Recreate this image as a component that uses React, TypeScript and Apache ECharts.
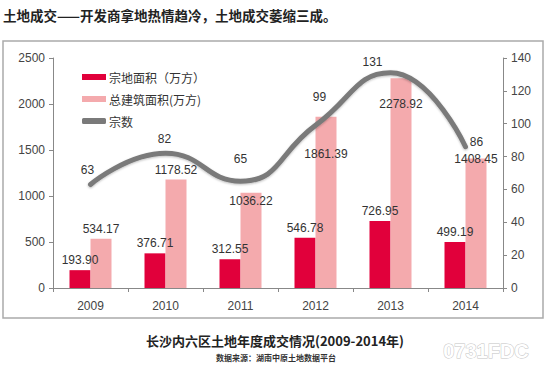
import React, { useEffect, useRef } from "react";
import * as echarts from "echarts";

const years = ["2009", "2010", "2011", "2012", "2013", "2014"];
const landArea = [193.9, 376.71, 312.55, 546.78, 726.95, 499.19];
const buildArea = [534.17, 1178.52, 1036.22, 1861.39, 2278.92, 1408.45];
const counts = [63, 82, 65, 99, 131, 86];
const seriesNames = ["宗地面积（万方）", "总建筑面积(万方)", "宗数"];
const titleText = "土地成交——开发商拿地热情趋冷，土地成交萎缩三成。";
const captionText = "长沙内六区土地年度成交情况(2009-2014年)";
const sourceText = "数据来源：湖南中原土地数据平台";
const watermarkText = "0731FDC";

// label offsets (styling only)
const buildLabelOffsets = [0, 0, 18, 47, 36, 11];
const countLabelOffsets: [number, number][] = [
  [-3, -3],
  [-1, -3],
  [0, -11],
  [4, -17],
  [-18, 1],
  [11, 7],
];

const NUM_FONT = "'Liberation Sans', Arial, sans-serif";
const CJK_FONT = "'Noto Sans CJK SC', 'Noto Sans', sans-serif";

export default function App() {
  const ref = useRef<HTMLDivElement>(null);
  useEffect(() => {
    if (!ref.current) return;
    const chart = echarts.init(ref.current, undefined, { renderer: "svg" });
    const labelStyle = {
      fontSize: 12,
      color: "#333",
      fontFamily: NUM_FONT,
    };
    chart.setOption({
      animation: false,
      backgroundColor: "#fff",
      textStyle: { fontFamily: NUM_FONT },
      grid: { left: 53, right: 47, top: 58, bottom: 83, containLabel: false },
      legend: {
        orient: "vertical",
        left: 77,
        top: 66,
        itemWidth: 24,
        itemHeight: 6,
        itemGap: 10,
        textStyle: { fontSize: 12, color: "#333", fontFamily: CJK_FONT, padding: [0, 0, 0, -2] },
        data: [
          { name: seriesNames[0], icon: "rect" },
          { name: seriesNames[1], icon: "rect" },
          { name: seriesNames[2], icon: "roundRect" },
        ],
      },
      xAxis: {
        type: "category",
        data: years,
        boundaryGap: true,
        axisLine: { lineStyle: { color: "#888", width: 1 } },
        axisTick: { show: true, alignWithLabel: false, length: 4, lineStyle: { color: "#888" } },
        axisLabel: { fontSize: 12, color: "#444", margin: 12, fontFamily: NUM_FONT },
      },
      yAxis: [
        {
          type: "value",
          min: 0,
          max: 2500,
          interval: 500,
          splitLine: { show: false },
          axisLine: { show: true, lineStyle: { color: "#888", width: 1 } },
          axisTick: { show: true, length: 4, lineStyle: { color: "#888" } },
          axisLabel: {
            fontSize: 12,
            color: "#444",
            margin: 8,
            fontFamily: NUM_FONT,
            formatter: (v: number) => String(v),
          },
        },
        {
          type: "value",
          min: 0,
          max: 140,
          interval: 20,
          splitLine: { show: false },
          axisLine: { show: true, lineStyle: { color: "#888", width: 1 } },
          axisTick: { show: true, length: 4, lineStyle: { color: "#888" } },
          axisLabel: { fontSize: 12, color: "#444", margin: 8, fontFamily: NUM_FONT },
        },
      ],
      series: [
        {
          name: seriesNames[0],
          type: "bar",
          yAxisIndex: 0,
          barWidth: 21,
          barGap: "0%",
          itemStyle: { color: "#e1003b" },
          label: {
            show: true,
            position: "top",
            distance: 4,
            ...labelStyle,
            formatter: (p: any) => Number(p.value).toFixed(2),
          },
          data: landArea,
        },
        {
          name: seriesNames[1],
          type: "bar",
          yAxisIndex: 0,
          barWidth: 21,
          barGap: "0%",
          itemStyle: { color: "#f4aaad" },
          label: {
            show: true,
            position: "top",
            distance: 4,
            ...labelStyle,
            formatter: (p: any) => Number(p.value).toFixed(2),
          },
          data: buildArea.map((v, i) => ({
            value: v,
            label: { offset: [0, buildLabelOffsets[i]] },
          })),
        },
        {
          name: seriesNames[2],
          type: "line",
          yAxisIndex: 1,
          smooth: 0.5,
          symbol: "circle",
          symbolSize: 1,
          showSymbol: true,
          lineStyle: {
            color: "#7a7a7a",
            width: 5,
            cap: "round",
            shadowColor: "rgba(0,0,0,0.25)",
            shadowBlur: 2,
            shadowOffsetY: 1,
          },
          itemStyle: { color: "#7a7a7a" },
          label: {
            show: true,
            position: "top",
            distance: 5,
            ...labelStyle,
          },
          labelLayout: (params: any) => {
            const o = countLabelOffsets[params.dataIndex] || [0, 0];
            return { dx: o[0], dy: o[1], hideOverlap: false };
          },
          data: counts,
          z: 5,
        },
      ],
      graphic: [
        {
          type: "text",
          left: 3,
          top: 8,
          style: {
            text: titleText,
            fontSize: 13.5,
            fontWeight: "bold",
            fill: "#222",
            fontFamily: CJK_FONT,
          },
        },
        {
          type: "rect",
          shape: { x: 3, y: 41, width: 540, height: 277 },
          style: { fill: "none", stroke: "#aaa", lineWidth: 1.5 },
          z: -1,
        },
        {
          type: "text",
          x: 275,
          y: 340,
          style: {
            text: captionText,
            fontSize: 13,
            fontWeight: "bold",
            fill: "#222",
            fontFamily: CJK_FONT,
            align: "center",
            verticalAlign: "middle",
          },
        },
        {
          type: "text",
          x: 276,
          y: 357,
          style: {
            text: sourceText,
            fontSize: 8,
            fontWeight: "bold",
            fill: "#333",
            fontFamily: CJK_FONT,
            align: "center",
            verticalAlign: "middle",
          },
        },
        {
          type: "text",
          x: 486,
          y: 351,
          style: {
            text: watermarkText,
            fontSize: 20,
            fontWeight: "bold",
            fill: "#fff",
            stroke: "#c4c4c4",
            lineWidth: 1,
            fontFamily: NUM_FONT,
            align: "center",
            verticalAlign: "middle",
          },
        },
      ],
    });
    return () => chart.dispose();
  }, []);
  return (
    <div
      ref={ref}
      style={{ position: "fixed", left: 0, top: 0, width: 550, height: 371 }}
    />
  );
}
